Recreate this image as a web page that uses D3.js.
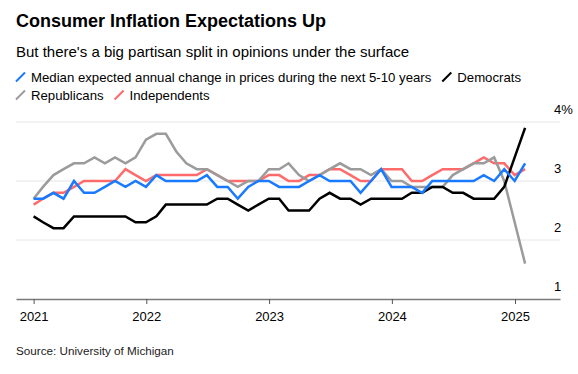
<!DOCTYPE html>
<html>
<head>
<meta charset="utf-8">
<script src="https://cdn.jsdelivr.net/npm/d3@7"></script>
<style>
  body { margin: 0; background: #fff; }
  text { font-family: "Liberation Sans", Arial, sans-serif; }
</style>
</head>
<body>
<div id="chart"></div>
<script>
'use strict';

var months = [
  '2021-01','2021-02','2021-03','2021-04','2021-05','2021-06','2021-07','2021-08','2021-09','2021-10','2021-11','2021-12',
  '2022-01','2022-02','2022-03','2022-04','2022-05','2022-06','2022-07','2022-08','2022-09','2022-10','2022-11','2022-12',
  '2023-01','2023-02','2023-03','2023-04','2023-05','2023-06','2023-07','2023-08','2023-09','2023-10','2023-11','2023-12',
  '2024-01','2024-02','2024-03','2024-04','2024-05','2024-06','2024-07','2024-08','2024-09','2024-10','2024-11','2024-12',
  '2025-01'
]

var overall = [
  2.7,2.7,2.8,2.7,3.0,2.8,2.8,2.9,3.0,2.9,3.0,2.9,
  3.1,3.0,3.0,3.0,3.0,3.1,2.9,2.9,2.7,2.9,3.0,3.0,
  2.9,2.9,2.9,3.0,3.1,3.0,3.0,3.0,2.8,3.0,3.2,2.9,
  2.9,2.9,2.8,3.0,3.0,3.0,3.0,3.0,3.1,3.0,3.2,3.0,
  3.3
]
var democrats = [
  2.4,2.3,2.2,2.2,2.4,2.4,2.4,2.4,2.4,2.4,2.3,2.3,
  2.4,2.6,2.6,2.6,2.6,2.6,2.7,2.7,2.6,2.5,2.6,2.7,
  2.7,2.5,2.5,2.5,2.7,2.8,2.7,2.7,2.6,2.7,2.7,2.7,
  2.7,2.8,2.8,2.9,2.9,2.8,2.8,2.7,2.7,2.7,2.9,3.4,
  3.9
]
var republicans = [
  2.7,2.9,3.1,3.2,3.3,3.3,3.4,3.3,3.4,3.3,3.4,3.7,
  3.8,3.8,3.5,3.3,3.2,3.2,3.1,3.0,2.9,3.0,3.0,3.2,
  3.2,3.3,3.1,3.0,3.1,3.2,3.3,3.2,3.2,3.1,3.2,3.0,
  3.0,2.9,2.9,2.9,2.9,3.1,3.2,3.3,3.3,3.4,3.0,2.3,
  1.6
]
var independents = [
  2.6,2.7,2.8,2.8,2.9,3.0,3.0,3.0,3.0,3.2,3.1,3.0,
  3.1,3.1,3.1,3.1,3.1,3.2,3.1,3.0,3.0,3.0,3.0,3.1,
  3.1,3.0,3.0,3.1,3.1,3.2,3.2,3.1,3.0,3.0,3.2,3.2,
  3.2,3.0,3.0,3.1,3.2,3.2,3.2,3.3,3.4,3.3,3.3,3.1,
  3.2
]

var seriesNames = ['Median expected annual change in prices during the next 5-10 years', 'Democrats', 'Republicans', 'Independents']
var yearTicks = ['2021', '2022', '2023', '2024', '2025']
var yTicks = [1, 2, 3, 4]

var title = 'Consumer Inflation Expectations Up'
var subtitle = "But there's a big partisan split in opinions under the surface"
var source = 'Source: University of Michigan'

var colors = ['#1a7aff', '#000000', '#9b9b9b', '#ff6b6b']

var svg = d3.select('#chart').append('svg').attr('width', 578).attr('height', 374)

var parse = d3.timeParse('%Y-%m')
// survey months are plotted at month end
var dates = months.map(function(m) { return d3.timeDay.offset(d3.timeMonth.offset(parse(m), 1), -1) })

var x = d3.scaleTime()
  .domain([new Date(2022, 0, 1), new Date(2025, 0, 1)])
  .range([146.3, 515])
x.domain([x.invert(16), x.invert(560)]).range([16, 560])

var y = d3.scaleLinear().domain([1, 4]).range([299, 122])

svg.append('text')
  .attr('x', 16).attr('y', 27)
  .attr('font-size', 18).attr('font-weight', 'bold')
  .text(title)

svg.append('text')
  .attr('x', 16).attr('y', 57)
  .attr('font-size', 15)
  .text(subtitle)

var legendRows = [[0, 1], [2, 3]]
var legend = svg.append('g').attr('font-size', 13.2)
legendRows.forEach(function(row, r) {
  var cx = 16, cy = 82 + r * 18
  row.forEach(function(i) {
    legend.append('line')
      .attr('x1', cx).attr('y1', cy - 0.5)
      .attr('x2', cx + 9).attr('y2', cy - 9.5)
      .style('stroke', colors[i]).style('stroke-width', 2)
    var t = legend.append('text').attr('x', cx + 15).attr('y', cy).text(seriesNames[i])
    cx += 15 + t.node().getComputedTextLength() + 11
  })
})

// grid
svg.append('g').selectAll('line')
  .data(yTicks.slice(1))
  .enter().append('line')
  .attr('x1', 16).attr('x2', 560)
  .attr('y1', function(d) { return y(d) }).attr('y2', function(d) { return y(d) })
  .style('stroke', '#e6e6e6').style('stroke-width', 1)

svg.append('g').selectAll('text')
  .data(yTicks)
  .enter().append('text')
  .attr('x', 554)
  .attr('y', function(d) { return y(d) - 8 })
  .attr('font-size', 13)
  .text(function(d, i) { return i === yTicks.length - 1 ? d + '%' : d })

var tickDates = yearTicks.map(function(t, i) {
  return i === 0 ? dates[0] : new Date(+t, 0, 1)
})

var xAxis = svg.append('g')
  .attr('transform', 'translate(0,' + y(1) + ')')
  .call(d3.axisBottom(x).tickValues(tickDates).tickSize(5).tickSizeOuter(0)
    .tickFormat(function(d, i) { return yearTicks[i] }))
xAxis.select('.domain').style('stroke', '#7a7a7a').style('stroke-width', 1.5)
xAxis.selectAll('.tick line').style('stroke', '#555')
xAxis.selectAll('.tick text')
  .attr('y', 13).attr('dy', '0.71em')
  .style('font-family', '"Liberation Sans", Arial, sans-serif')
  .style('font-size', '13px').style('fill', '#000')

var line = d3.line()
  .x(function(d, i) { return x(dates[i]) })
  .y(function(d) { return y(d) })

var drawOrder = [3, 2, 1, 0]
var allSeries = [overall, democrats, republicans, independents]
svg.append('g').selectAll('path')
  .data(drawOrder)
  .enter().append('path')
  .attr('d', function(i) { return line(allSeries[i]) })
  .style('fill', 'none')
  .style('stroke', function(i) { return colors[i] })
  .style('stroke-width', 2.5)
  .style('stroke-linejoin', 'miter')

svg.append('text')
  .attr('x', 16).attr('y', 355)
  .attr('font-size', 11.7).attr('fill', '#222')
  .text(source)
</script>
</body>
</html>
